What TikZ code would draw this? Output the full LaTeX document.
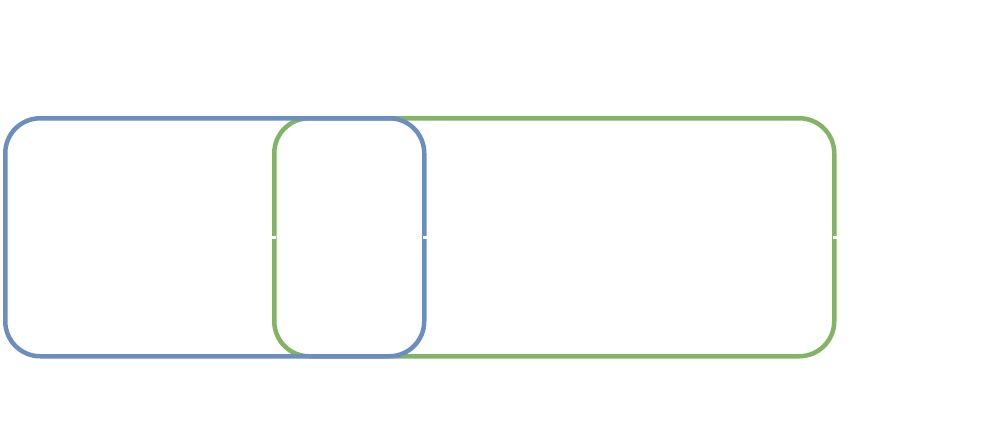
\documentclass[tikz,border=0pt]{standalone}
\definecolor{bblue}{HTML}{6C8EBF}
\definecolor{ggreen}{HTML}{82B366}
\tikzset{box/.style={line width=4.5pt,rounded corners=35pt},gap/.style={white,line width=3pt}}
\begin{document}
\begin{tikzpicture}[x=1pt,y=-1pt]
\useasboundingbox (0,0) rectangle (1004,439);
\node[draw=ggreen,box,minimum width=560pt,minimum height=238pt,anchor=north west,inner sep=0pt] (g) at (272,116) {};
\node[draw=bblue,box,minimum width=419pt,minimum height=238pt,anchor=north west,inner sep=0pt] (b) at (3,116) {};
\draw[gap] ([xshift=-4pt]g.west) -- ([xshift=4pt]g.west);
\draw[gap] ([xshift=-4pt]b.east) -- ([xshift=4pt]b.east);
\draw[gap] ([xshift=-4pt]g.east) -- ([xshift=4pt]g.east);
\end{tikzpicture}
\end{document}
